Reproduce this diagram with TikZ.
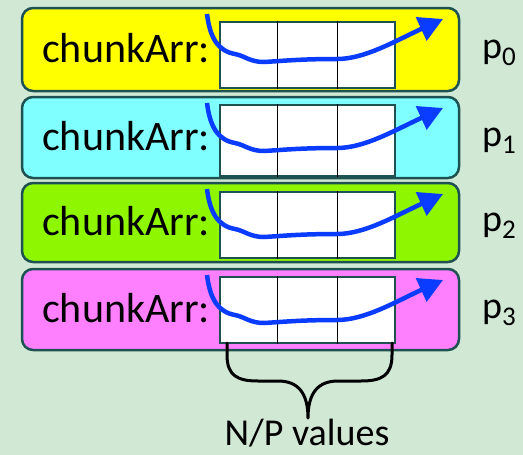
\documentclass[tikz,border=0pt]{standalone}
\usepackage{fontspec}
\setmainfont{Carlito}
\usetikzlibrary{arrows.meta,calc}
\definecolor{bg}{HTML}{D1E8D5}
\definecolor{edge}{HTML}{1E5252}
\definecolor{c0}{HTML}{FFFF00}
\definecolor{c1}{HTML}{7FFFFF}
\definecolor{c2}{HTML}{8EF700}
\definecolor{c3}{HTML}{FF80FF}
\definecolor{flow}{HTML}{0A3CFF}
\begin{document}
\begin{tikzpicture}[x=1pt,y=-1pt,
  band/.style={draw=edge,line width=2.5pt,rounded corners=11pt,minimum width=437pt,inner sep=0pt},
  arr/.style={draw=edge,fill=white,line width=2.5pt,minimum width=175pt,inner sep=0pt},
  cellsep/.style={draw=black,line width=1pt},
  lbl/.style={font=\fontsize{42}{42}\selectfont,anchor=base west,inner sep=0pt},
  plbl/.style={font=\fontsize{38}{38}\selectfont,anchor=base west,inner sep=0pt},
  flowline/.style={draw=flow,line width=4.5pt,-{Triangle[length=24pt,width=25pt]}},
  bracestyle/.style={draw=black,line width=3pt,line cap=round,line join=round}]
\fill[bg] (0,0) rectangle (523,455);
\useasboundingbox (0,0) rectangle (523,455);
\foreach \i/\t/\b/\bt/\bb in {0/8/91/22/88, 1/97/178/105/176, 2/183/262/192/258, 3/269/350/277/343}{
  \node[band, fill=c\i, minimum height={(\b-\t)*1pt}] (b\i) at (240.5,{(\t+\b)/2}) {};
  \node[arr, minimum height={(\bb-\bt)*1pt}] (a\i) at (307.5,{(\bt+\bb)/2}) {};
  \draw[cellsep] ($(a\i.north west)!0.3333!(a\i.north east)$) -- ($(a\i.south west)!0.3333!(a\i.south east)$);
  \draw[cellsep] ($(a\i.north west)!0.6667!(a\i.north east)$) -- ($(a\i.south west)!0.6667!(a\i.south east)$);
  \node[lbl] (t\i) at (42,{(\t+\b)/2+13}) {chunkArr:};
  \node[plbl] (p\i) at (482,{(\t+\b)/2+9}) {p\raisebox{-7pt}{\fontsize{27}{27}\selectfont \i}};
  \begin{scope}[shift={(0,\t)}]
    \coordinate (s\i) at (207,6);
    \coordinate (e\i) at (443,11);
    \draw[flowline] (s\i) .. controls (210,30) and (218,43) .. (235,46)
      .. controls (245,48) and (250,54) .. (264,54)
      .. controls (282,53) and (300,51) .. (337,51)
      .. controls (365,51) and (395,33) .. (e\i);
  \end{scope}
}
\coordinate (bl) at (227,343);
\coordinate (br) at (392,343);
\coordinate (tip) at (308,418);
\draw[bracestyle] (bl) -- (227,355) .. controls (227,376) and (238,381) .. (258,381)
  -- (278,381) .. controls (298,381) and (308,393) .. (tip)
  .. controls (308,393) and (318,381) .. (338,381)
  -- (361,381) .. controls (381,381) and (392,376) .. (392,355) -- (br);
\node[font=\fontsize{38}{38}\selectfont,anchor=base,inner sep=0pt] (np) at (307,445) {N/P values};
\end{tikzpicture}
\end{document}
